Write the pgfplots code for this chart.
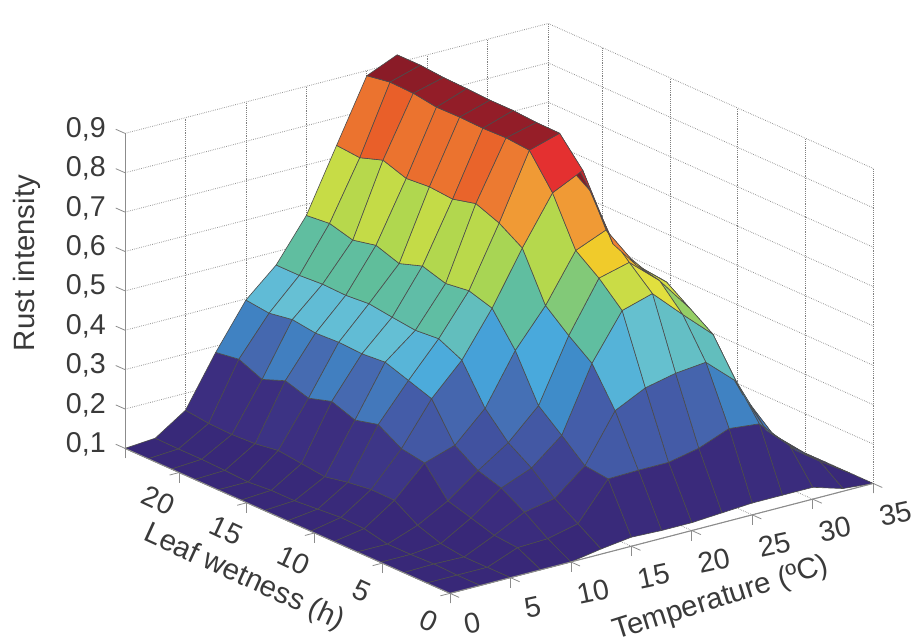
\documentclass[border=0pt]{standalone}
\usepackage{pgfplots}
\usepackage{fontspec}
\setmainfont{Liberation Sans}
\pgfplotsset{compat=1.18}
\definecolor{txt}{HTML}{3A3A3A}
\definecolor{axl}{HTML}{8C8C8C}
\pgfplotsset{colormap={rust}{
rgb255=(56,40,120) rgb255=(58,43,124) rgb255=(60,46,128) rgb255=(61,58,139)
rgb255=(62,70,150) rgb255=(65,81,159) rgb255=(68,92,168) rgb255=(70,108,178)
rgb255=(62,138,200) rgb255=(67,153,210) rgb255=(72,168,220) rgb255=(87,180,216)
rgb255=(102,192,212) rgb255=(100,191,199) rgb255=(96,189,173) rgb255=(96,190,153)
rgb255=(121,198,128) rgb255=(144,205,108) rgb255=(171,214,81) rgb255=(196,219,71)
rgb255=(224,224,64) rgb255=(236,212,48) rgb255=(246,192,36) rgb255=(241,158,53)
rgb255=(238,138,52) rgb255=(235,115,47) rgb255=(232,90,40) rgb255=(230,69,44)
rgb255=(228,48,48) rgb255=(204,43,46) rgb255=(179,37,44) rgb255=(155,31,41)
rgb255=(136,27,39) rgb255=(128,24,36)
}}
\begin{document}
\begin{tikzpicture}[x=0.75pt,y=0.75pt]
\path[use as bounding box] (0,0) rectangle (919,640);
\begin{axis}[
 at={(337.5pt,35pt)}, anchor=origin,
 x={(9.0675pt,2.355pt)}, y={(-10.155pt,4.53pt)}, z={(0pt,295.3pt)},
 xmin=0,xmax=35,ymin=0,ymax=24,zmin=0.1,zmax=0.9,
 clip=false,
 axis line style={draw=none},
 tick align=outside,
 major tick length=7.5pt,
 tick style={axl,line width=0.6pt},
 ztick style={draw=none},
 xtick pos=left,ytick pos=left,ztick pos=left,
 xtick={0,5,...,35}, ytick={0,5,...,20},
 ztick={0.1,0.2,0.3,0.4,0.5,0.6,0.7,0.8,0.9},
 grid=major,
 major grid style={densely dotted,line width=0.65pt,black!50},
 /pgf/number format/assume math mode=true,
 /pgf/number format/use comma,
 /pgf/number format/fixed,
 /pgf/number format/precision=1,
 tick label style={font=\fontsize{21.5}{25}\selectfont,text=txt},
 xticklabel style={rotate=12,anchor=center,xshift=5.5pt,yshift=-21pt},
 yticklabel style={rotate=-25,anchor=center,xshift=0.5pt,yshift=-20.5pt},
 zticklabel style={anchor=center,xshift=-22.5pt,yshift=0pt},
 point meta min=0.1,point meta max=0.925,
 colormap name=rust,
]
\addplot3[surf,shader=flat corner,draw=black!70,line width=0.45pt,z buffer=sort,mesh/ordering=y varies,mesh/rows=15,mesh/cols=15,point meta=z] coordinates {
(0,0,.1)(0,1.714,.1)(0,3.429,.1)(0,5.143,.1)(0,6.857,.1)(0,8.571,.1)(0,10.286,.1)(0,12,.1)(0,13.714,.1)(0,15.429,.1)(0,17.143,.1)(0,18.857,.1)(0,20.571,.1)(0,22.286,.1)(0,24,.1)

(2.5,0,.1)(2.5,1.714,.1)(2.5,3.429,.102)(2.5,5.143,.1)(2.5,6.857,.1)(2.5,8.571,.113)(2.5,10.286,.115)(2.5,12,.11)(2.5,13.714,.105)(2.5,15.429,.105)(2.5,17.143,.1)(2.5,18.857,.103)(2.5,20.571,.105)(2.5,22.286,.105)(2.5,24,.106)

(5,0,.1)(5,1.714,.1)(5,3.429,.1)(5,5.143,.108)(5,6.857,.128)(5,8.571,.165)(5,10.286,.166)(5,12,.158)(5,13.714,.146)(5,15.429,.153)(5,17.143,.16)(5,18.857,.151)(5,20.571,.148)(5,22.286,.15)(5,24,.157)

(7.5,0,.1)(7.5,1.714,.13)(7.5,3.429,.135)(7.5,5.143,.153)(7.5,6.857,.17)(7.5,8.571,.24)(7.5,10.286,.25)(7.5,12,.285)(7.5,13.714,.27)(7.5,15.429,.291)(7.5,17.143,.273)(7.5,18.857,.291)(7.5,20.571,.268)(7.5,22.286,.293)(7.5,24,.284)

(10,0,.1)(10,1.714,.133)(10,3.429,.174)(10,5.143,.209)(10,6.857,.227)(10,8.571,.265)(10,10.286,.357)(10,12,.377)(10,13.714,.397)(10,15.429,.392)(10,17.143,.395)(10,18.857,.392)(10,20.571,.4)(10,22.286,.39)(10,24,.397)

(12.5,0,.113)(12.5,1.714,.151)(12.5,3.429,.189)(12.5,5.143,.24)(12.5,6.857,.278)(12.5,8.571,.339)(12.5,10.286,.435)(12.5,12,.463)(12.5,13.714,.458)(12.5,15.429,.465)(12.5,17.143,.473)(12.5,18.857,.468)(12.5,20.571,.47)(12.5,22.286,.466)(12.5,24,.466)

(15,0,.123)(15,1.714,.245)(15,3.429,.252)(15,5.143,.303)(15,6.857,.352)(15,8.571,.466)(15,10.286,.547)(15,12,.565)(15,13.714,.557)(15,15.429,.575)(15,17.143,.555)(15,18.857,.575)(15,20.571,.562)(15,22.286,.578)(15,24,.572)

(17.5,0,.12)(17.5,1.714,.247)(17.5,3.429,.372)(17.5,5.143,.466)(17.5,6.857,.51)(17.5,8.571,.56)(17.5,10.286,.68)(17.5,12,.717)(17.5,13.714,.74)(17.5,15.429,.725)(17.5,17.143,.73)(17.5,18.857,.725)(17.5,20.571,.745)(17.5,22.286,.725)(17.5,24,.73)

(20,0,.12)(20,1.714,.247)(20,3.429,.41)(20,5.143,.58)(20,6.857,.636)(20,8.571,.68)(20,10.286,.8)(20,12,.882)(20,13.714,.887)(20,15.429,.885)(20,17.143,.887)(20,18.857,.886)(20,20.571,.895)(20,22.286,.897)(20,24,.887)

(22.5,0,.125)(22.5,1.714,.263)(22.5,3.429,.427)(22.5,5.143,.603)(22.5,6.857,.656)(22.5,8.571,.712)(22.5,10.286,.837)(22.5,12,.905)(22.5,13.714,.906)(22.5,15.429,.91)(22.5,17.143,.91)(22.5,18.857,.913)(22.5,20.571,.915)(22.5,22.286,.92)(22.5,24,.92)

(25,0,.13)(25,1.714,.293)(25,3.429,.435)(25,5.143,.53)(25,6.857,.59)(25,8.571,.603)(25,10.286,.63)(25,12,.74)(25,13.714,.78)(25,15.429,.8)(25,17.143,.82)(25,18.857,.83)(25,20.571,.84)(25,22.286,.85)(25,24,.85)

(27.5,0,.13)(27.5,1.714,.285)(27.5,3.429,.367)(27.5,5.143,.46)(27.5,6.857,.5)(27.5,8.571,.54)(27.5,10.286,.547)(27.5,12,.55)(27.5,13.714,.58)(27.5,15.429,.6)(27.5,17.143,.6)(27.5,18.857,.62)(27.5,20.571,.62)(27.5,22.286,.6)(27.5,24,.6)

(30,0,.13)(30,1.714,.21)(30,3.429,.222)(30,5.143,.285)(30,6.857,.36)(30,8.571,.43)(30,10.286,.465)(30,12,.47)(30,13.714,.45)(30,15.429,.45)(30,17.143,.45)(30,18.857,.45)(30,20.571,.42)(30,22.286,.42)(30,24,.4)

(32.5,0,.107)(32.5,1.714,.15)(32.5,3.429,.15)(32.5,5.143,.165)(32.5,6.857,.19)(32.5,8.571,.275)(32.5,10.286,.35)(32.5,12,.35)(32.5,13.714,.3)(32.5,15.429,.3)(32.5,17.143,.3)(32.5,18.857,.28)(32.5,20.571,.25)(32.5,22.286,.2)(32.5,24,.2)

(35,0,.1)(35,1.714,.1)(35,3.429,.1)(35,5.143,.1)(35,6.857,.105)(35,8.571,.11)(35,10.286,.12)(35,12,.12)(35,13.714,.12)(35,15.429,.12)(35,17.143,.11)(35,18.857,.11)(35,20.571,.1)(35,22.286,.1)(35,24,.1)
};
\draw[axl,line width=0.8pt] (axis cs:0,24,0.1) -- (axis cs:0,24,0.9);
\draw[axl,line width=0.8pt] (axis cs:0,24,0.1) -- (axis cs:0,0,0.1) -- (axis cs:35,0,0.1);
\pgfplotsinvokeforeach{0.1,0.2,0.3,0.4,0.5,0.6,0.7,0.8,0.9}{
 \draw[axl,line width=0.6pt] (axis cs:0,24,#1) -- ++(-7pt,3.1pt);
}
\end{axis}
\node[rotate=90,text=txt,font=\fontsize{22}{26}\selectfont] at (27,377) {Rust intensity};
\node[rotate=-24.5,text=txt,font=\fontsize{22}{26}\selectfont] at (244,62) {Leaf wetness (h)};
\node[rotate=17.5,text=txt,font=\fontsize{22}{26}\selectfont] at (721,41) {Temperature (ºC)};
\end{tikzpicture}
\end{document}
